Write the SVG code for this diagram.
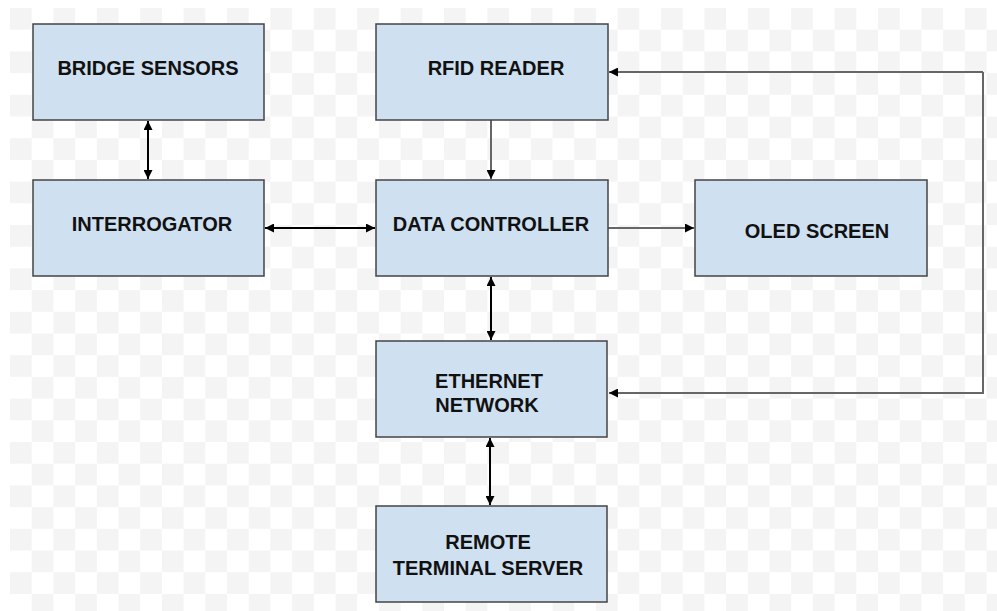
<svg xmlns="http://www.w3.org/2000/svg" width="997" height="611" viewBox="0 0 997 611">
<defs>
<pattern id="chk" x="10" y="8" width="43.4" height="43.4" patternUnits="userSpaceOnUse">
<rect x="0" y="0" width="43.4" height="43.4" fill="#ffffff"/>
<rect x="0" y="0" width="21.7" height="21.7" fill="#f4f4f4"/>
<rect x="21.7" y="21.7" width="21.7" height="21.7" fill="#f4f4f4"/>
</pattern>
<marker id="ah" viewBox="0 0 10 10" refX="10" refY="5" markerWidth="9" markerHeight="9" markerUnits="userSpaceOnUse" orient="auto-start-reverse">
<path d="M0,0 L10,5 L0,10 z" fill="#000"/>
</marker>
<style>
.box{fill:#cfe0f1;stroke:#444;stroke-width:1.5}
.t{font-family:"Liberation Sans",Arial,sans-serif;font-weight:bold;font-size:20px;fill:#111;text-anchor:middle}
.bi{stroke:#000;stroke-width:2;fill:none}
.uni{stroke:#666;stroke-width:2;fill:none}
</style>
</defs>
<rect x="0" y="0" width="997" height="611" fill="#fff"/>
<rect x="10" y="8" width="987" height="603" fill="url(#chk)"/>

<g id="connectors">
<line class="bi" x1="148" y1="121" x2="148" y2="179" marker-start="url(#ah)" marker-end="url(#ah)"/>
<line class="uni" x1="491" y1="120" x2="491" y2="179" marker-end="url(#ah)"/>
<line class="bi" x1="265" y1="228" x2="375" y2="228" marker-start="url(#ah)" marker-end="url(#ah)"/>
<line class="uni" x1="608" y1="228" x2="694" y2="228" marker-end="url(#ah)"/>
<line class="bi" x1="491" y1="277" x2="491" y2="340" marker-start="url(#ah)" marker-end="url(#ah)"/>
<line class="bi" x1="490" y1="438" x2="490" y2="505" marker-start="url(#ah)" marker-end="url(#ah)"/>
<polyline class="uni" points="983,72 983,393 609,393" marker-end="url(#ah)"/>
<polyline class="uni" points="983,72 609,72" marker-end="url(#ah)"/>
</g>

<g id="bridge-sensors">
<rect class="box" x="33" y="24" width="231" height="96"/>
<text class="t" x="148" y="75">BRIDGE SENSORS</text>
</g>
<g id="interrogator">
<rect class="box" x="33" y="180" width="231" height="96"/>
<text class="t" x="152" y="231">INTERROGATOR</text>
</g>
<g id="rfid-reader">
<rect class="box" x="376" y="24" width="232" height="96"/>
<text class="t" x="496" y="75">RFID READER</text>
</g>
<g id="data-controller">
<rect class="box" x="376" y="180" width="232" height="96"/>
<text class="t" x="491" y="231">DATA CONTROLLER</text>
</g>
<g id="oled-screen">
<rect class="box" x="695" y="180" width="232" height="96"/>
<text class="t" x="817" y="238">OLED SCREEN</text>
</g>
<g id="ethernet-network">
<rect class="box" x="376" y="341" width="231" height="96"/>
<text class="t" x="489" y="388">ETHERNET</text>
<text class="t" x="487" y="412">NETWORK</text>
</g>
<g id="remote-terminal-server">
<rect class="box" x="376" y="506" width="231" height="96"/>
<text class="t" x="488" y="549">REMOTE</text>
<text class="t" x="488" y="575">TERMINAL SERVER</text>
</g>
</svg>
